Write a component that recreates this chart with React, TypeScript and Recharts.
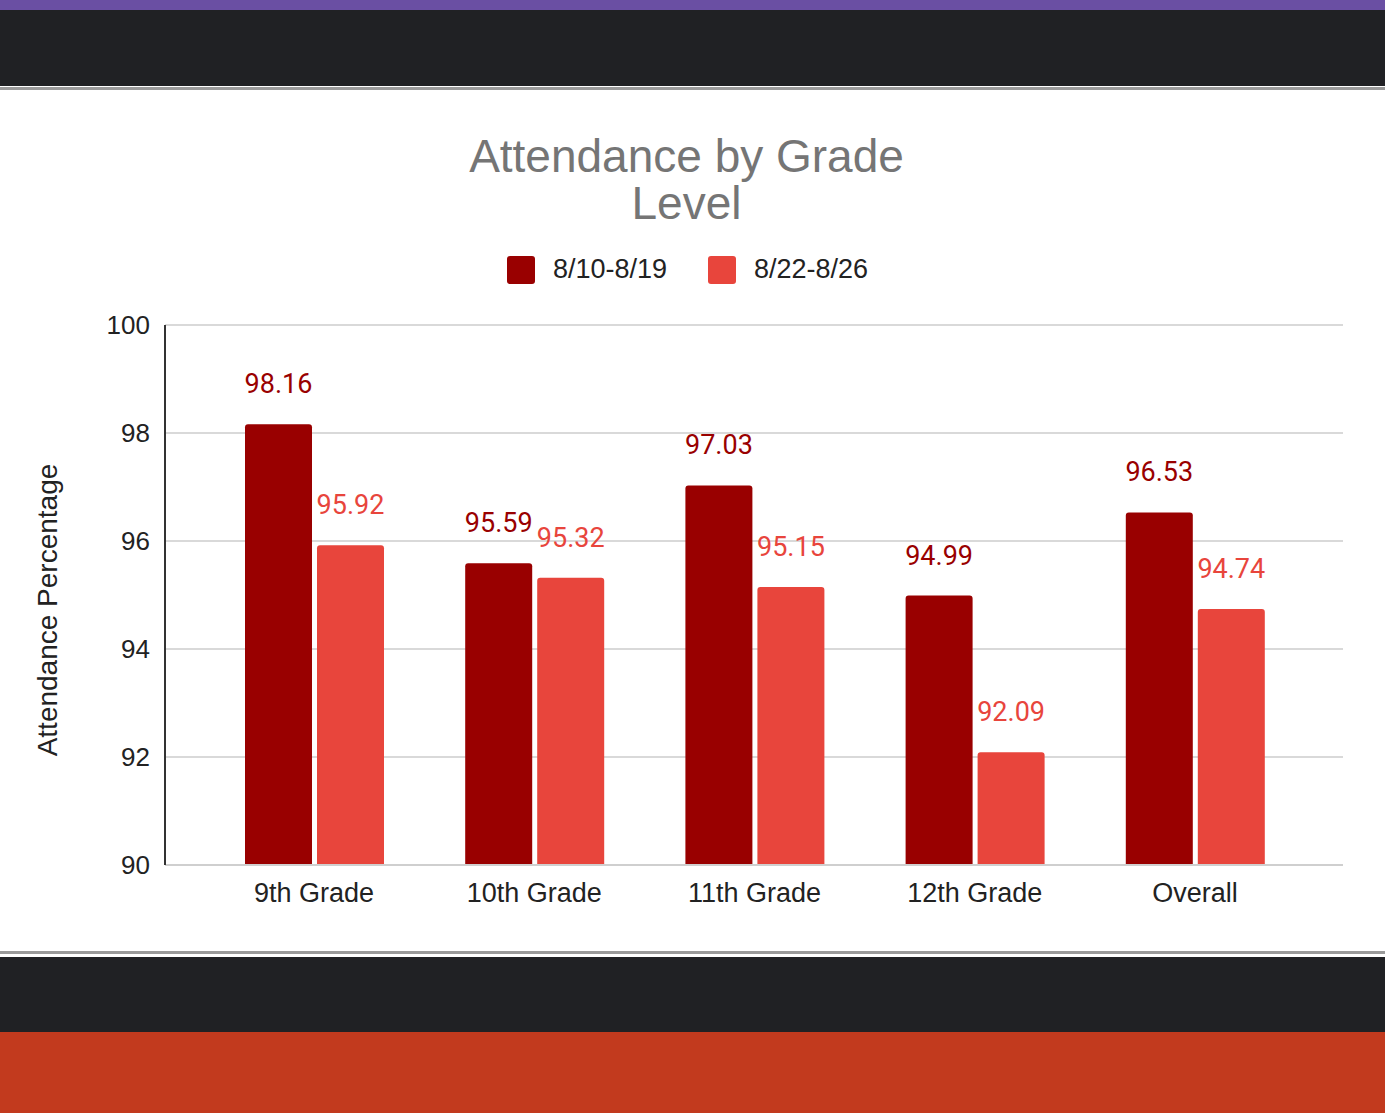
import React from 'react';
import { BarChart, Bar, XAxis, YAxis, CartesianGrid, LabelList } from 'recharts';

const categories = ['9th Grade', '10th Grade', '11th Grade', '12th Grade', 'Overall'];
const seriesA = [98.16, 95.59, 97.03, 94.99, 96.53];
const seriesB = [95.92, 95.32, 95.15, 92.09, 94.74];
const seriesNames = ['8/10-8/19', '8/22-8/26'];
const yTicks = [90, 92, 94, 96, 98, 100];
const yAxisTitle = 'Attendance Percentage';

const data = categories.map((c, i) => ({ name: c, a: seriesA[i], b: seriesB[i] }));

const DARK = '#990000';
const LIGHT = '#e8453c';
const ARIAL = 'Arial, "Liberation Sans", Helvetica, sans-serif';

export default function App() {
  return (
    <div style={{ position: 'fixed', left: 0, top: 0, width: 1385, height: 1113, background: '#fff', overflow: 'hidden' }}>
      <div style={{ position: 'absolute', left: 0, top: 0, width: 1385, height: 10, background: '#6a4fa3' }} />
      <div style={{ position: 'absolute', left: 0, top: 10, width: 1385, height: 76, background: '#202124' }} />
      <div style={{ position: 'absolute', left: 0, top: 87, width: 1385, height: 3, background: '#9a9a9a' }} />
      <div style={{ position: 'absolute', left: 0, top: 951, width: 1385, height: 3, background: '#9a9a9a' }} />
      <div style={{ position: 'absolute', left: 0, top: 957, width: 1385, height: 75, background: '#202124' }} />
      <div style={{ position: 'absolute', left: 0, top: 1032, width: 1385, height: 81, background: '#c23a1e' }} />

      <div style={{ position: 'absolute', left: 0, top: 133, width: 1373, textAlign: 'center', fontFamily: ARIAL, fontSize: 46, lineHeight: '47px', color: '#757575' }}>
        Attendance by Grade
        <br />
        Level
      </div>

      <div style={{ position: 'absolute', left: 507, top: 254, display: 'flex', alignItems: 'center', fontFamily: ARIAL, fontSize: 27, color: '#222' }}>
        <div style={{ width: 28, height: 28, background: DARK, borderRadius: 3 }} />
        <span style={{ marginLeft: 18, width: 155 }}>{seriesNames[0]}</span>
        <div style={{ width: 28, height: 28, background: LIGHT, borderRadius: 3 }} />
        <span style={{ marginLeft: 18 }}>{seriesNames[1]}</span>
      </div>

      <div
        style={{
          position: 'absolute',
          left: 48 - 200,
          top: 610 - 16,
          width: 400,
          height: 32,
          lineHeight: '32px',
          textAlign: 'center',
          transform: 'rotate(-90deg)',
          fontFamily: ARIAL,
          fontSize: 28,
          color: '#222',
          zIndex: 2,
        }}
      >
        {yAxisTitle}
      </div>

      <div style={{ position: 'absolute', left: 0, top: 0 }}>
        <BarChart
          width={1385}
          height={1113}
          data={data}
          margin={{ top: 325, right: 42, bottom: 208, left: 35 }}
          barCategoryGap={40}
          barGap={5}
        >
          <CartesianGrid horizontal vertical={false} stroke="#d9d9d9" strokeWidth={2} />
          <XAxis
            dataKey="name"
            padding={{ left: 39, right: 38 }}
            tickLine={false}
            tickSize={6}
            tickMargin={12}
            axisLine={{ stroke: '#cfcfcf', strokeWidth: 2 }}
            tick={{ fontSize: 27, fill: '#222', fontFamily: ARIAL }}
            height={40}
            interval={0}
          />
          <YAxis
            domain={[90, 100]}
            ticks={yTicks}
            width={130}
            tickLine={false}
            tickSize={6}
            tickMargin={9}
            axisLine={{ stroke: '#333', strokeWidth: 2 }}
            tick={{ fontSize: 26, fill: '#222', fontFamily: ARIAL }}
          />
          <Bar dataKey="a" fill={DARK} barSize={67} radius={[3, 3, 0, 0]} isAnimationActive={false}>
            <LabelList dataKey="a" position="top" offset={31} style={{ fontSize: 27, fill: DARK, fontFamily: 'Roboto, sans-serif' }} />
          </Bar>
          <Bar dataKey="b" fill={LIGHT} barSize={67} radius={[3, 3, 0, 0]} isAnimationActive={false}>
            <LabelList dataKey="b" position="top" offset={31} style={{ fontSize: 27, fill: LIGHT, fontFamily: 'Roboto, sans-serif' }} />
          </Bar>
        </BarChart>
      </div>
    </div>
  );
}
